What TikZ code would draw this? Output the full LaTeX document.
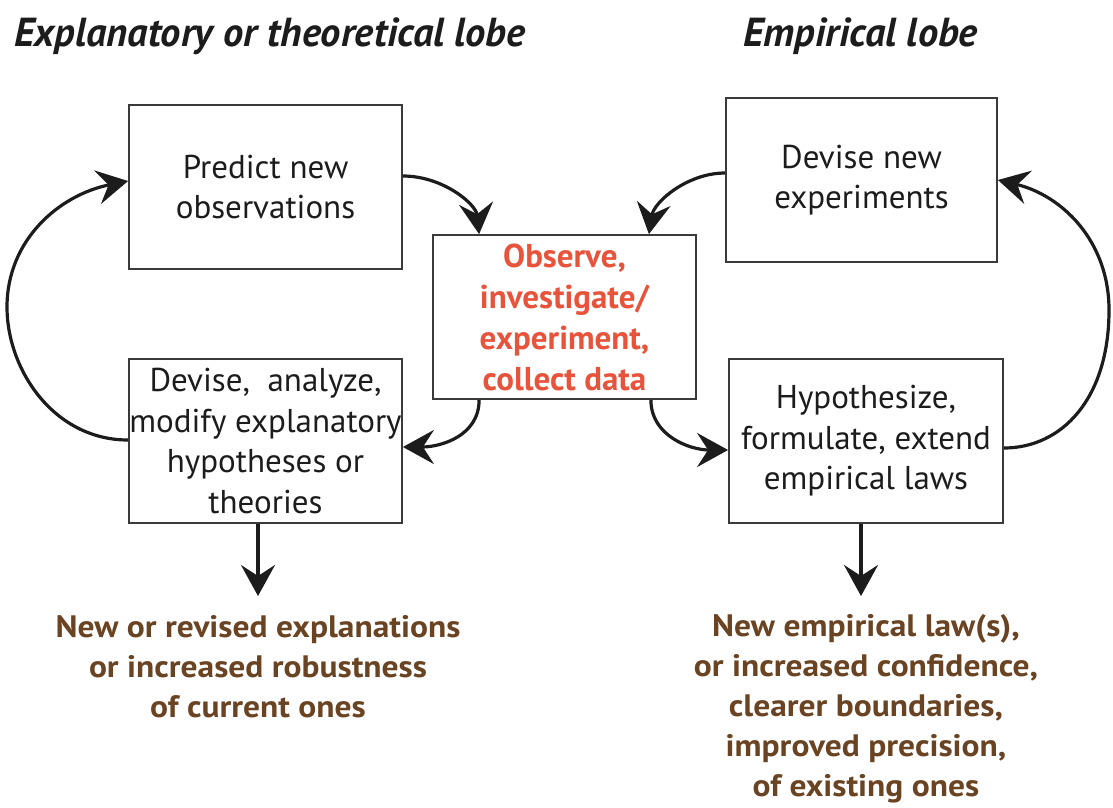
\documentclass[tikz,border=0pt]{standalone}
\usepackage{fontspec}
\setmainfont{PT Sans}
\newfontfamily\boxfont{PT Sans}
\newfontfamily\titlefont{PT Sans}
\newfontfamily\outfont{PT Sans}[FakeStretch=1.08]
\usetikzlibrary{arrows.meta,calc}
\definecolor{boxline}{HTML}{3A3A3A}
\definecolor{obsred}{HTML}{E8533B}
\definecolor{outbrown}{HTML}{6A4322}
\definecolor{txt}{HTML}{1C1C1C}
\begin{document}
\begin{tikzpicture}[x=1pt,y=-1pt,
  box/.style={draw=boxline,line width=1.8pt,align=center,inner sep=0pt,
    text=txt,minimum height=164pt,font=\boxfont\fontsize{33}{40.5}\selectfont},
  conn/.style={line width=3.2pt,draw=txt,
    -{Stealth[length=31pt,width=34pt,inset=11pt]}},
  lobetitle/.style={inner sep=0pt,text=txt,
    font=\titlefont\bfseries\itshape\fontsize{40.5}{48}\selectfont},
  outcome/.style={inner sep=0pt,align=center,text=outbrown,
    font=\outfont\bfseries\fontsize{31}{40}\selectfont}]
\useasboundingbox (0,0) rectangle (1113,807);

\node[lobetitle,anchor=base west] (tl) at (14,46) {Explanatory or theoretical lobe};
\node[lobetitle,anchor=base west] (tr) at (743,46) {Empirical lobe};

\node[box,minimum width=273pt] (pred) at (265.5,187) {Predict new\\observations};
\node[box,minimum width=273pt] (devl) at (265.5,441) {Devise,\ \ analyze,\\modify explanatory\\hypotheses or\\theories};
\node[box,minimum width=263pt,text=obsred,font=\bfseries\fontsize{33}{41}\selectfont] (obs) at (564.5,317) {Observe,\\investigate/\\experiment,\\collect data};
\node[box,minimum width=271pt] (devn) at (861.5,180) {Devise new\\experiments};
\node[box,minimum width=274pt] (hyp) at (866,441) {Hypothesize,\\formulate, extend\\empirical laws};

\node[outcome,anchor=north] (outl) at (258,615) {New or revised explanations\\or increased robustness\\of current ones};
\node[outcome,anchor=north] (outr) at (866,614) {New empirical law(s),\\or increased confidence,\\clearer boundaries,\\improved precision,\\of existing ones};

\coordinate (lmid) at (7,307);
\coordinate (rmid) at (1109,310);
\coordinate (tipl) at (258,596);
\coordinate (tipr) at (861,596);

\draw[conn] ($(pred.east)+(0,-11)$) .. controls +(40,0) and +(-3,-30) .. ($(obs.north west)+(47,0)$);
\draw[conn] ($(devn.west)+(0,-7)$) .. controls +(-38,0) and +(5,-32) .. ($(obs.north east)+(-48,0)$);
\draw[conn] ($(obs.south west)+(47,0)$) .. controls +(0,36) and +(38,0) .. ($(devl.east)+(0,6)$);
\draw[conn] ($(obs.south east)+(-46,0)$) .. controls +(0,36) and +(-38,0) .. ($(hyp.west)+(0,9)$);
\draw[conn] ($(devl.west)+(0,-1)$) .. controls +(-74,0) and +(0,63) .. (lmid)
  .. controls +(0,-67) and +(-69,14) .. ($(pred.west)+(0,-6)$);
\draw[conn] ($(hyp.east)+(0,7)$) .. controls +(57,0) and +(0,90) .. (rmid)
  .. controls +(0,-70) and +(63,15) .. (devn.east);
\draw[conn] ($(devl.south)+(-7.5,0)$) -- (tipl);
\draw[conn] ($(hyp.south)+(-5,0)$) -- (tipr);
\end{tikzpicture}
\end{document}
